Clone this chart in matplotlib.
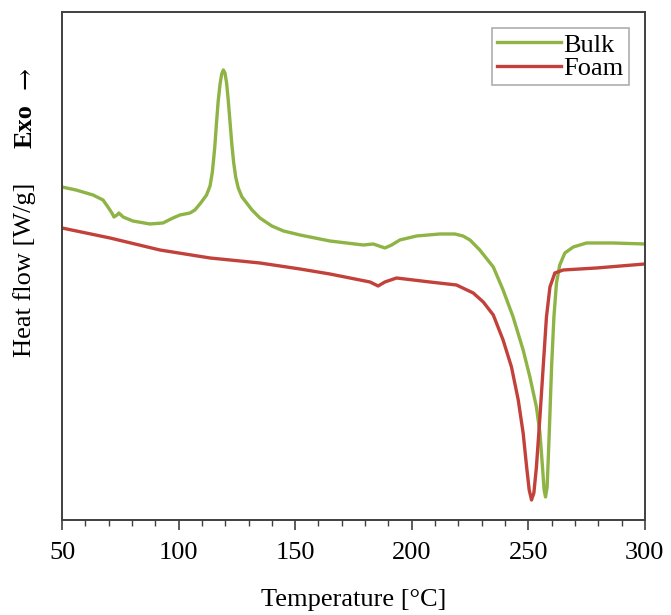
import matplotlib.pyplot as plt
from matplotlib.ticker import MultipleLocator, NullLocator

plt.rcParams['font.family'] = ['Liberation Serif', 'DejaVu Serif']

# temperature [°C] and heat flow (arbitrary offset, W/g)
bulk_T = [50.0, 56.0, 63.3, 67.6, 69.7, 71.4, 72.3, 73.6, 74.4, 76.2, 80.4,
          87.7, 93.3, 97.6, 100.6, 104.9, 107.0, 109.5, 112.0, 113.5, 114.5,
          115.5, 116.3, 117.0, 117.8, 118.5, 119.2, 119.9, 120.6, 121.3, 122.0,
          122.8, 123.6, 124.5, 125.6, 127.2, 129.2, 131.5, 134.9, 140.0, 145.0,
          152.1, 164.9, 179.2, 183.5, 188.5, 191.4, 194.9, 202.1, 212.1, 218.5,
          222.0, 225.0, 229.2, 235.0, 239.2, 243.5, 247.8, 250.7, 253.5, 255.0,
          256.1, 256.8, 257.4, 258.1, 259.0, 260.0, 261.0, 262.1, 263.5, 265.7,
          269.3, 275.0, 286.4, 300.0]
bulk_hf = [1.13, 1.10, 1.05, 1.00, 0.93, 0.87, 0.83, 0.85, 0.87, 0.83, 0.79,
           0.76, 0.77, 0.82, 0.85, 0.87, 0.90, 0.97, 1.05, 1.14, 1.28,
           1.52, 1.78, 1.99, 2.16, 2.26, 2.30, 2.27, 2.17, 2.00, 1.80,
           1.57, 1.38, 1.23, 1.12, 1.03, 0.97, 0.90, 0.82, 0.74, 0.69,
           0.65, 0.59, 0.55, 0.56, 0.52, 0.55, 0.60, 0.64, 0.66, 0.66,
           0.64, 0.60, 0.50, 0.33, 0.10, -0.17, -0.50, -0.77, -1.07, -1.33,
           -1.67, -1.90, -1.97, -1.87, -1.33, -0.67, -0.17, 0.17, 0.35, 0.47,
           0.53, 0.57, 0.57, 0.56]

foam_T = [50.0, 70.6, 92.0, 113.5, 134.9, 152.1, 164.9, 177.8, 182.1, 185.6,
          188.5, 193.5, 207.8, 219.2, 226.4, 230.7, 235.0, 239.2, 242.8, 245.7,
          247.8, 249.3, 250.4, 251.4, 252.4, 253.5, 255.0, 256.4, 257.8, 259.3,
          261.4, 265.0, 279.3, 300.0]
foam_hf = [0.72, 0.62, 0.50, 0.42, 0.37, 0.31, 0.26, 0.20, 0.18, 0.14,
           0.18, 0.22, 0.18, 0.15, 0.07, -0.02, -0.15, -0.40, -0.67, -1.00,
           -1.33, -1.67, -1.90, -2.00, -1.93, -1.67, -1.17, -0.67, -0.17, 0.13,
           0.27, 0.30, 0.32, 0.36]

green = "#8db444"
red = "#c2413a"

fig = plt.figure(figsize=(6.71, 6.15), dpi=100)
ax = fig.add_axes([0.0924, 0.1545, 0.8686, 0.826])

ax.plot(bulk_T, bulk_hf, color=green, lw=2.4, label="Bulk",
        solid_joinstyle="round")
ax.plot(foam_T, foam_hf, color=red, lw=2.4, label="Foam",
        solid_joinstyle="round")

ax.set_xlim(50, 300)
ax.set_ylim(-2.2, 2.88)
ax.xaxis.set_major_locator(MultipleLocator(50))
ax.xaxis.set_minor_locator(MultipleLocator(10))
ax.yaxis.set_major_locator(NullLocator())
ax.tick_params(axis="x", which="major", direction="out", length=7, width=1.2,
               color="#404040", labelsize=19, pad=9)
ax.tick_params(axis="x", which="minor", direction="out", length=4, width=1.0,
               color="#404040")
for s in ax.spines.values():
    s.set_color("#404040")
    s.set_linewidth(1.4)

ax.set_xlabel("Temperature [°C]", fontsize=19, labelpad=18)

fig.text(0.037, 0.562, "Heat flow [W/g]", rotation=90, ha="center",
         va="center", fontsize=19)
fig.text(0.037, 0.795, "Exo", rotation=90, ha="center", va="center",
         fontsize=19, fontweight="bold")
fig.text(0.037, 0.873, "\u2192", rotation=90, ha="center", va="center",
         fontsize=19, family="DejaVu Serif")

leg = ax.legend(loc="upper right", fontsize=19, frameon=True, fancybox=False,
                handlelength=2.4, handletextpad=0.1, borderpad=0.2,
                labelspacing=0.0, borderaxespad=0.6)
leg.get_frame().set_edgecolor("#999999")
leg.get_frame().set_linewidth(1.2)

fig.savefig("out.png", dpi=100)
